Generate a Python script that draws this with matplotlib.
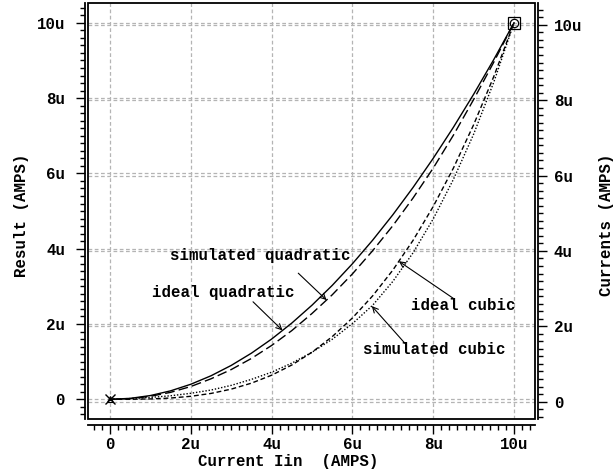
import matplotlib.pyplot as plt
import numpy as np
from matplotlib.patches import Rectangle
from matplotlib.ticker import FixedLocator, MultipleLocator

plt.rcParams['font.family'] = ['Liberation Mono', 'DejaVu Sans Mono']
plt.rcParams['font.weight'] = 'bold'

# Input current sweep (uA) and the four output currents (uA)
iin = [0.0, 0.5, 1.0, 1.5, 2.0, 2.5, 3.0, 3.5, 4.0, 4.5, 5.0,
       5.5, 6.0, 6.5, 7.0, 7.5, 8.0, 8.5, 9.0, 9.5, 10.0]
ideal_quad = [0.0, 0.025, 0.10, 0.225, 0.40, 0.625, 0.90, 1.225, 1.60, 2.025, 2.50,
              3.025, 3.60, 4.225, 4.90, 5.625, 6.40, 7.225, 8.10, 9.025, 10.0]
sim_quad = [0.0, 0.015, 0.08, 0.185, 0.34, 0.545, 0.79, 1.085, 1.43, 1.825, 2.28,
            2.775, 3.33, 3.945, 4.61, 5.345, 6.14, 7.015, 7.96, 8.955, 10.0]
ideal_cubic = [0.0, 0.001, 0.01, 0.034, 0.08, 0.156, 0.27, 0.429, 0.64, 0.911, 1.25,
               1.664, 2.16, 2.746, 3.43, 4.219, 5.12, 6.141, 7.29, 8.574, 10.0]
sim_cubic = [0.0, 0.021, 0.05, 0.094, 0.16, 0.246, 0.37, 0.529, 0.72, 0.961, 1.25,
             1.594, 2.01, 2.496, 3.13, 3.889, 4.79, 5.841, 7.04, 8.424, 10.0]

major = [0, 2, 4, 6, 8, 10]
major_labels = ['0', '2u', '4u', '6u', '8u', '10u']

fig = plt.figure(figsize=(6.16, 4.73), dpi=100)
ax = fig.add_axes([88 / 616, 1 - 419 / 473, 447 / 616, 416 / 473])
ax2 = ax.twinx()

ax.set_xlim(-0.545, 10.52)
ax.set_ylim(-0.523, 10.526)
ax2.set_ylim(-0.461, 10.58)

grid_kw = dict(color='#b4b4b4', linestyle=(0, (3, 2)), linewidth=0.9)
ax.grid(True, **grid_kw)
ax2.grid(True, axis='y', **grid_kw)
ax.set_axisbelow(True)
ax2.set_axisbelow(True)

# keep the curves above the second set of gridlines
ax.set_zorder(ax2.get_zorder() + 1)
ax.patch.set_visible(False)

lw = 1.0
ax.plot(iin, ideal_quad, color='black', lw=lw, linestyle='-')
ax.plot(iin, sim_quad, color='black', lw=lw, linestyle=(0, (7, 3)))
ax.plot(iin, ideal_cubic, color='black', lw=lw, linestyle=(0, (3.5, 2)))
ax.plot(iin, sim_cubic, color='black', lw=lw, linestyle=(0, (1, 1.3)))

# probe markers at the sweep ends
ax.plot([0], [0], marker='x', ms=7, mew=1.0, color='black', clip_on=False)
ax.plot([0], [0], marker='^', ms=4, mfc='none', mew=0.8, color='black', clip_on=False)
ax.plot([10], [10], marker='s', ms=9, mfc='none', mew=0.9, color='black', clip_on=False)
ax.plot([10], [10], marker='o', ms=6, mfc='none', mew=0.9, color='black', clip_on=False)

arrow = dict(arrowstyle='->', color='black', lw=0.8, shrinkA=0, shrinkB=0)
ann = [
    ('simulated quadratic', (3.71, 3.81), (4.66, 3.35), 5.36, sim_quad),
    ('ideal quadratic', (2.80, 2.85), (3.54, 2.59), 4.27, ideal_quad),
    ('ideal cubic', (8.74, 2.50), (8.50, 2.68), 7.15, ideal_cubic),
    ('simulated cubic', (8.02, 1.31), (7.34, 1.44), 6.48, sim_cubic),
]
for label, txt_xy, tail, head_x, curve in ann:
    ax.text(txt_xy[0], txt_xy[1], label, ha='center', va='center', fontsize=11.3)
    head = (head_x, np.interp(head_x, iin, curve))
    ax.annotate('', xy=head, xytext=tail, arrowprops=arrow)

# tick axes sit a little outside the plot frame
ax.add_patch(Rectangle((0, 0), 1, 1, transform=ax.transAxes, fill=False,
                       lw=1.3, edgecolor='black', clip_on=False, zorder=5))
for s in ['top', 'right']:
    ax.spines[s].set_visible(False)
ax.spines['bottom'].set_position(('outward', 4))
ax.spines['left'].set_position(('outward', 2))
for s in ['top', 'left', 'bottom']:
    ax2.spines[s].set_visible(False)
ax2.spines['right'].set_position(('outward', 2))
for sp in [ax.spines['bottom'], ax.spines['left'], ax2.spines['right']]:
    sp.set_linewidth(1.3)

for a in (ax, ax2):
    a.yaxis.set_major_locator(FixedLocator(major))
    a.yaxis.set_minor_locator(MultipleLocator(0.2))
    a.set_yticklabels(major_labels)
ax.xaxis.set_major_locator(FixedLocator(major))
ax.xaxis.set_minor_locator(MultipleLocator(0.2))
ax.set_xticklabels(major_labels)

ax.tick_params(axis='both', which='major', direction='out', length=6.5, width=1.0,
               labelsize=11.3, pad=2.5)
ax.tick_params(axis='both', which='minor', direction='out', length=3.8, width=1.0)
ax.tick_params(axis='y', which='major', pad=8)
ax2.tick_params(axis='y', which='major', direction='out', length=6.5, width=1.0,
                labelsize=11.3, pad=5)
ax2.tick_params(axis='y', which='minor', direction='out', length=3.8, width=1.0)

fig.text(288 / 616, 1 - 461 / 473, 'Current Iin  (AMPS)', ha='center', va='center',
         fontsize=11.3)
fig.text(22 / 616, 1 - 215 / 473, 'Result (AMPS)', rotation=90, ha='center',
         va='center', fontsize=11.3)
fig.text(607 / 616, 1 - 225 / 473, 'Currents (AMPS)', rotation=90, ha='center',
         va='center', fontsize=11.3)

fig.savefig('out.png', dpi=100)
